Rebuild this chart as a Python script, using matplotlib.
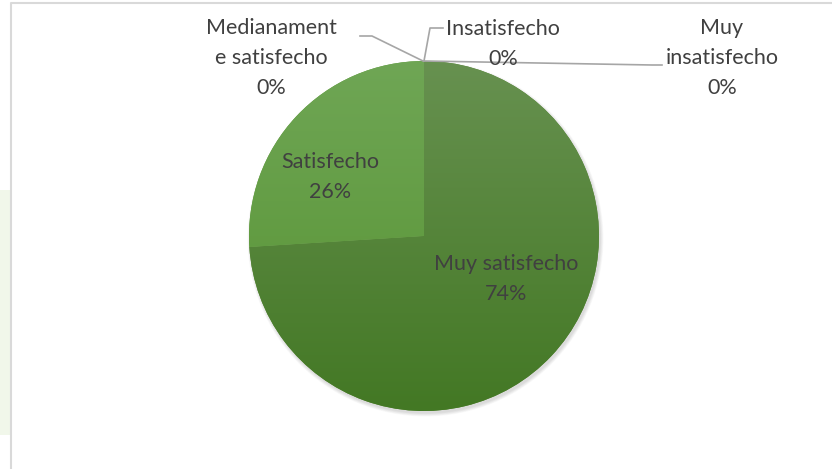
import matplotlib
matplotlib.use("Agg")
from matplotlib import pyplot as plt
from matplotlib.patches import Rectangle
import numpy as np

categories = ["Muy satisfecho", "Satisfecho", "Medianamente satisfecho", "Insatisfecho", "Muy insatisfecho"]
values = [74, 26, 0, 0, 0]
label_texts = ["Muy satisfecho", "Satisfecho", "Medianament\ne satisfecho", "Insatisfecho", "Muy\ninsatisfecho"]

W, H = 832, 469
plt.rcParams["font.family"] = ["Lato", "DejaVu Sans"]

fig = plt.figure(figsize=(W / 100, H / 100), dpi=100)
ax = fig.add_axes([0, 0, 1, 1])

# page background bits
ax.add_patch(Rectangle((0, H - 435), 10, 245, color="#f1f7ea", lw=0, zorder=0))
ax.plot([11, 11, W], [0, H - 3, H - 3], color="#d9d9d9", lw=1.5, zorder=1)

cx, cy, r = 424, H - 236, 175

# soft shadow
for k in range(6):
    ax.add_patch(plt.Circle((cx + 1.5, cy - 2.5), r + 3 - k * 0.6, color="#000000",
                            alpha=0.025, lw=0, zorder=1))

wedges, _ = ax.pie(values, startangle=90, counterclock=False, center=(cx, cy), radius=r,
                   colors=["#55852f", "#5f9b3a", "#a5a5a5", "#a5a5a5", "#a5a5a5"],
                   wedgeprops=dict(linewidth=0), frame=True)
ax.set_xlim(0, W)
ax.set_ylim(0, H)
ax.axis("off")

# vertical gradient inside the two visible slices
grads = [("#679150", "#437824"), ("#6fa655", "#569231")]
for w, (top, bot) in zip(wedges[:2], grads):
    c1 = np.array(matplotlib.colors.to_rgb(top))
    c2 = np.array(matplotlib.colors.to_rgb(bot))
    t = np.linspace(0, 1, 256)[:, None]
    img = (c1 * (1 - t) + c2 * t)[:, None, :]
    im = ax.imshow(img, extent=(cx - r, cx + r, cy - r, cy + r), aspect="auto",
                   origin="upper", zorder=2, interpolation="bilinear")
    im.set_clip_path(w)

txt = dict(ha="center", va="center", fontsize=15.5, color="#404040", zorder=5,
           linespacing=1.6)
ax.text(506, H - 279, f"{label_texts[0]}\n{values[0]}%", **txt)
ax.text(330, H - 177, f"{label_texts[1]}\n{values[1]}%", **txt)
ax.text(271, H - 58, f"{label_texts[2]}\n{values[2]}%", **txt)
ax.text(503, H - 44, f"{label_texts[3]}\n{values[3]}%", **txt)
ax.text(722, H - 58, f"{label_texts[4]}\n{values[4]}%", **txt)

# leader lines
lc = dict(color="#a6a6a6", lw=1.2, zorder=4)
ax.plot([360, 372, 423], [H - 36, H - 36, H - 61], **lc)
ax.plot([443, 430, 424], [H - 28, H - 28, H - 61], **lc)
ax.plot([424, 652, 662], [H - 61, H - 65, H - 65], **lc)

fig.savefig("out.png", dpi=100)
